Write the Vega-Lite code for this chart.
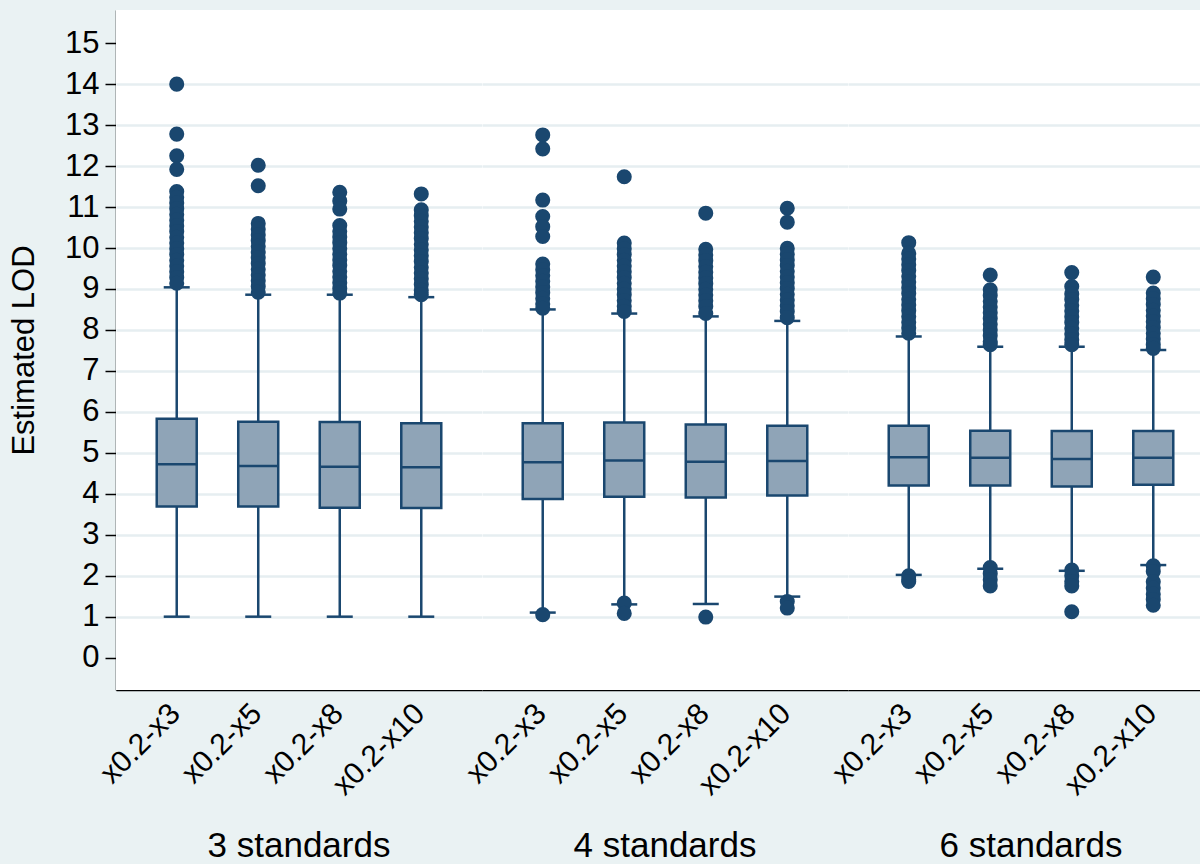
{
  "$schema": "https://vega.github.io/schema/vega-lite/v6.json",
  "background": "#EAF2F3",
  "padding": {"left": 8, "top": 10, "right": -12, "bottom": 0},
  "data": {"values": [
    {"group": "3 standards", "label": "x0.2-x3", "lo": 1.0, "q1": 3.69, "med": 4.72, "q3": 5.83, "hi": 9.04},
    {"group": "3 standards", "label": "x0.2-x5", "lo": 1.0, "q1": 3.69, "med": 4.68, "q3": 5.76, "hi": 8.86},
    {"group": "3 standards", "label": "x0.2-x8", "lo": 1.0, "q1": 3.66, "med": 4.66, "q3": 5.75, "hi": 8.86},
    {"group": "3 standards", "label": "x0.2-x10", "lo": 1.0, "q1": 3.65, "med": 4.65, "q3": 5.72, "hi": 8.8},
    {"group": "4 standards", "label": "x0.2-x3", "lo": 1.1, "q1": 3.87, "med": 4.77, "q3": 5.72, "hi": 8.5},
    {"group": "4 standards", "label": "x0.2-x5", "lo": 1.3, "q1": 3.93, "med": 4.81, "q3": 5.74, "hi": 8.4},
    {"group": "4 standards", "label": "x0.2-x8", "lo": 1.31, "q1": 3.91, "med": 4.78, "q3": 5.69, "hi": 8.33},
    {"group": "4 standards", "label": "x0.2-x10", "lo": 1.49, "q1": 3.96, "med": 4.8, "q3": 5.66, "hi": 8.22},
    {"group": "6 standards", "label": "x0.2-x3", "lo": 2.02, "q1": 4.2, "med": 4.89, "q3": 5.66, "hi": 7.84},
    {"group": "6 standards", "label": "x0.2-x5", "lo": 2.17, "q1": 4.2, "med": 4.88, "q3": 5.54, "hi": 7.59},
    {"group": "6 standards", "label": "x0.2-x8", "lo": 2.12, "q1": 4.18, "med": 4.85, "q3": 5.53, "hi": 7.59},
    {"group": "6 standards", "label": "x0.2-x10", "lo": 2.26, "q1": 4.22, "med": 4.88, "q3": 5.53, "hi": 7.51},

    {"group": "3 standards", "label": "x0.2-x3", "out": 14.0},
    {"group": "3 standards", "label": "x0.2-x3", "out": 12.78},
    {"group": "3 standards", "label": "x0.2-x3", "out": 12.25},
    {"group": "3 standards", "label": "x0.2-x3", "out": 11.92},
    {"group": "3 standards", "label": "x0.2-x3", "out": 11.38},
    {"group": "3 standards", "label": "x0.2-x3", "out": 11.24},
    {"group": "3 standards", "label": "x0.2-x3", "out": 11.1},
    {"group": "3 standards", "label": "x0.2-x3", "out": 10.96},
    {"group": "3 standards", "label": "x0.2-x3", "out": 10.82},
    {"group": "3 standards", "label": "x0.2-x3", "out": 10.68},
    {"group": "3 standards", "label": "x0.2-x3", "out": 10.54},
    {"group": "3 standards", "label": "x0.2-x3", "out": 10.4},
    {"group": "3 standards", "label": "x0.2-x3", "out": 10.26},
    {"group": "3 standards", "label": "x0.2-x3", "out": 10.12},
    {"group": "3 standards", "label": "x0.2-x3", "out": 9.98},
    {"group": "3 standards", "label": "x0.2-x3", "out": 9.84},
    {"group": "3 standards", "label": "x0.2-x3", "out": 9.7},
    {"group": "3 standards", "label": "x0.2-x3", "out": 9.56},
    {"group": "3 standards", "label": "x0.2-x3", "out": 9.42},
    {"group": "3 standards", "label": "x0.2-x3", "out": 9.28},
    {"group": "3 standards", "label": "x0.2-x3", "out": 9.14},

    {"group": "3 standards", "label": "x0.2-x5", "out": 12.02},
    {"group": "3 standards", "label": "x0.2-x5", "out": 11.52},
    {"group": "3 standards", "label": "x0.2-x5", "out": 10.6},
    {"group": "3 standards", "label": "x0.2-x5", "out": 10.46},
    {"group": "3 standards", "label": "x0.2-x5", "out": 10.32},
    {"group": "3 standards", "label": "x0.2-x5", "out": 10.18},
    {"group": "3 standards", "label": "x0.2-x5", "out": 10.04},
    {"group": "3 standards", "label": "x0.2-x5", "out": 9.9},
    {"group": "3 standards", "label": "x0.2-x5", "out": 9.76},
    {"group": "3 standards", "label": "x0.2-x5", "out": 9.62},
    {"group": "3 standards", "label": "x0.2-x5", "out": 9.48},
    {"group": "3 standards", "label": "x0.2-x5", "out": 9.34},
    {"group": "3 standards", "label": "x0.2-x5", "out": 9.2},
    {"group": "3 standards", "label": "x0.2-x5", "out": 9.06},
    {"group": "3 standards", "label": "x0.2-x5", "out": 8.92},

    {"group": "3 standards", "label": "x0.2-x8", "out": 11.36},
    {"group": "3 standards", "label": "x0.2-x8", "out": 11.15},
    {"group": "3 standards", "label": "x0.2-x8", "out": 10.95},
    {"group": "3 standards", "label": "x0.2-x8", "out": 10.55},
    {"group": "3 standards", "label": "x0.2-x8", "out": 10.41},
    {"group": "3 standards", "label": "x0.2-x8", "out": 10.27},
    {"group": "3 standards", "label": "x0.2-x8", "out": 10.13},
    {"group": "3 standards", "label": "x0.2-x8", "out": 9.99},
    {"group": "3 standards", "label": "x0.2-x8", "out": 9.85},
    {"group": "3 standards", "label": "x0.2-x8", "out": 9.71},
    {"group": "3 standards", "label": "x0.2-x8", "out": 9.57},
    {"group": "3 standards", "label": "x0.2-x8", "out": 9.43},
    {"group": "3 standards", "label": "x0.2-x8", "out": 9.29},
    {"group": "3 standards", "label": "x0.2-x8", "out": 9.15},
    {"group": "3 standards", "label": "x0.2-x8", "out": 9.01},
    {"group": "3 standards", "label": "x0.2-x8", "out": 8.9},

    {"group": "3 standards", "label": "x0.2-x10", "out": 11.32},
    {"group": "3 standards", "label": "x0.2-x10", "out": 10.93},
    {"group": "3 standards", "label": "x0.2-x10", "out": 10.79},
    {"group": "3 standards", "label": "x0.2-x10", "out": 10.65},
    {"group": "3 standards", "label": "x0.2-x10", "out": 10.51},
    {"group": "3 standards", "label": "x0.2-x10", "out": 10.37},
    {"group": "3 standards", "label": "x0.2-x10", "out": 10.23},
    {"group": "3 standards", "label": "x0.2-x10", "out": 10.09},
    {"group": "3 standards", "label": "x0.2-x10", "out": 9.95},
    {"group": "3 standards", "label": "x0.2-x10", "out": 9.81},
    {"group": "3 standards", "label": "x0.2-x10", "out": 9.67},
    {"group": "3 standards", "label": "x0.2-x10", "out": 9.53},
    {"group": "3 standards", "label": "x0.2-x10", "out": 9.39},
    {"group": "3 standards", "label": "x0.2-x10", "out": 9.25},
    {"group": "3 standards", "label": "x0.2-x10", "out": 9.11},
    {"group": "3 standards", "label": "x0.2-x10", "out": 8.97},
    {"group": "3 standards", "label": "x0.2-x10", "out": 8.86},

    {"group": "4 standards", "label": "x0.2-x3", "out": 12.76},
    {"group": "4 standards", "label": "x0.2-x3", "out": 12.42},
    {"group": "4 standards", "label": "x0.2-x3", "out": 11.17},
    {"group": "4 standards", "label": "x0.2-x3", "out": 10.77},
    {"group": "4 standards", "label": "x0.2-x3", "out": 10.52},
    {"group": "4 standards", "label": "x0.2-x3", "out": 10.28},
    {"group": "4 standards", "label": "x0.2-x3", "out": 9.61},
    {"group": "4 standards", "label": "x0.2-x3", "out": 9.47},
    {"group": "4 standards", "label": "x0.2-x3", "out": 9.33},
    {"group": "4 standards", "label": "x0.2-x3", "out": 9.19},
    {"group": "4 standards", "label": "x0.2-x3", "out": 9.05},
    {"group": "4 standards", "label": "x0.2-x3", "out": 8.91},
    {"group": "4 standards", "label": "x0.2-x3", "out": 8.77},
    {"group": "4 standards", "label": "x0.2-x3", "out": 8.63},
    {"group": "4 standards", "label": "x0.2-x3", "out": 8.53},
    {"group": "4 standards", "label": "x0.2-x3", "out": 1.05},

    {"group": "4 standards", "label": "x0.2-x5", "out": 11.74},
    {"group": "4 standards", "label": "x0.2-x5", "out": 10.12},
    {"group": "4 standards", "label": "x0.2-x5", "out": 9.98},
    {"group": "4 standards", "label": "x0.2-x5", "out": 9.84},
    {"group": "4 standards", "label": "x0.2-x5", "out": 9.7},
    {"group": "4 standards", "label": "x0.2-x5", "out": 9.56},
    {"group": "4 standards", "label": "x0.2-x5", "out": 9.42},
    {"group": "4 standards", "label": "x0.2-x5", "out": 9.28},
    {"group": "4 standards", "label": "x0.2-x5", "out": 9.14},
    {"group": "4 standards", "label": "x0.2-x5", "out": 9.0},
    {"group": "4 standards", "label": "x0.2-x5", "out": 8.86},
    {"group": "4 standards", "label": "x0.2-x5", "out": 8.72},
    {"group": "4 standards", "label": "x0.2-x5", "out": 8.58},
    {"group": "4 standards", "label": "x0.2-x5", "out": 8.45},
    {"group": "4 standards", "label": "x0.2-x5", "out": 1.33},
    {"group": "4 standards", "label": "x0.2-x5", "out": 1.08},

    {"group": "4 standards", "label": "x0.2-x8", "out": 10.85},
    {"group": "4 standards", "label": "x0.2-x8", "out": 9.97},
    {"group": "4 standards", "label": "x0.2-x8", "out": 9.83},
    {"group": "4 standards", "label": "x0.2-x8", "out": 9.69},
    {"group": "4 standards", "label": "x0.2-x8", "out": 9.55},
    {"group": "4 standards", "label": "x0.2-x8", "out": 9.41},
    {"group": "4 standards", "label": "x0.2-x8", "out": 9.27},
    {"group": "4 standards", "label": "x0.2-x8", "out": 9.13},
    {"group": "4 standards", "label": "x0.2-x8", "out": 8.99},
    {"group": "4 standards", "label": "x0.2-x8", "out": 8.85},
    {"group": "4 standards", "label": "x0.2-x8", "out": 8.71},
    {"group": "4 standards", "label": "x0.2-x8", "out": 8.57},
    {"group": "4 standards", "label": "x0.2-x8", "out": 8.4},
    {"group": "4 standards", "label": "x0.2-x8", "out": 0.99},

    {"group": "4 standards", "label": "x0.2-x10", "out": 10.97},
    {"group": "4 standards", "label": "x0.2-x10", "out": 10.63},
    {"group": "4 standards", "label": "x0.2-x10", "out": 9.99},
    {"group": "4 standards", "label": "x0.2-x10", "out": 9.85},
    {"group": "4 standards", "label": "x0.2-x10", "out": 9.71},
    {"group": "4 standards", "label": "x0.2-x10", "out": 9.57},
    {"group": "4 standards", "label": "x0.2-x10", "out": 9.43},
    {"group": "4 standards", "label": "x0.2-x10", "out": 9.29},
    {"group": "4 standards", "label": "x0.2-x10", "out": 9.15},
    {"group": "4 standards", "label": "x0.2-x10", "out": 9.01},
    {"group": "4 standards", "label": "x0.2-x10", "out": 8.87},
    {"group": "4 standards", "label": "x0.2-x10", "out": 8.73},
    {"group": "4 standards", "label": "x0.2-x10", "out": 8.59},
    {"group": "4 standards", "label": "x0.2-x10", "out": 8.45},
    {"group": "4 standards", "label": "x0.2-x10", "out": 8.3},
    {"group": "4 standards", "label": "x0.2-x10", "out": 1.37},
    {"group": "4 standards", "label": "x0.2-x10", "out": 1.21},

    {"group": "6 standards", "label": "x0.2-x3", "out": 10.13},
    {"group": "6 standards", "label": "x0.2-x3", "out": 9.87},
    {"group": "6 standards", "label": "x0.2-x3", "out": 9.73},
    {"group": "6 standards", "label": "x0.2-x3", "out": 9.59},
    {"group": "6 standards", "label": "x0.2-x3", "out": 9.45},
    {"group": "6 standards", "label": "x0.2-x3", "out": 9.31},
    {"group": "6 standards", "label": "x0.2-x3", "out": 9.17},
    {"group": "6 standards", "label": "x0.2-x3", "out": 9.03},
    {"group": "6 standards", "label": "x0.2-x3", "out": 8.89},
    {"group": "6 standards", "label": "x0.2-x3", "out": 8.75},
    {"group": "6 standards", "label": "x0.2-x3", "out": 8.61},
    {"group": "6 standards", "label": "x0.2-x3", "out": 8.47},
    {"group": "6 standards", "label": "x0.2-x3", "out": 8.33},
    {"group": "6 standards", "label": "x0.2-x3", "out": 8.19},
    {"group": "6 standards", "label": "x0.2-x3", "out": 8.05},
    {"group": "6 standards", "label": "x0.2-x3", "out": 7.92},
    {"group": "6 standards", "label": "x0.2-x3", "out": 2.0},
    {"group": "6 standards", "label": "x0.2-x3", "out": 1.9},
    {"group": "6 standards", "label": "x0.2-x3", "out": 1.86},

    {"group": "6 standards", "label": "x0.2-x5", "out": 9.34},
    {"group": "6 standards", "label": "x0.2-x5", "out": 8.98},
    {"group": "6 standards", "label": "x0.2-x5", "out": 8.84},
    {"group": "6 standards", "label": "x0.2-x5", "out": 8.7},
    {"group": "6 standards", "label": "x0.2-x5", "out": 8.56},
    {"group": "6 standards", "label": "x0.2-x5", "out": 8.42},
    {"group": "6 standards", "label": "x0.2-x5", "out": 8.28},
    {"group": "6 standards", "label": "x0.2-x5", "out": 8.14},
    {"group": "6 standards", "label": "x0.2-x5", "out": 8.0},
    {"group": "6 standards", "label": "x0.2-x5", "out": 7.86},
    {"group": "6 standards", "label": "x0.2-x5", "out": 7.72},
    {"group": "6 standards", "label": "x0.2-x5", "out": 7.64},
    {"group": "6 standards", "label": "x0.2-x5", "out": 2.2},
    {"group": "6 standards", "label": "x0.2-x5", "out": 2.05},
    {"group": "6 standards", "label": "x0.2-x5", "out": 1.9},
    {"group": "6 standards", "label": "x0.2-x5", "out": 1.75},

    {"group": "6 standards", "label": "x0.2-x8", "out": 9.4},
    {"group": "6 standards", "label": "x0.2-x8", "out": 9.06},
    {"group": "6 standards", "label": "x0.2-x8", "out": 8.88},
    {"group": "6 standards", "label": "x0.2-x8", "out": 8.74},
    {"group": "6 standards", "label": "x0.2-x8", "out": 8.6},
    {"group": "6 standards", "label": "x0.2-x8", "out": 8.46},
    {"group": "6 standards", "label": "x0.2-x8", "out": 8.32},
    {"group": "6 standards", "label": "x0.2-x8", "out": 8.18},
    {"group": "6 standards", "label": "x0.2-x8", "out": 8.04},
    {"group": "6 standards", "label": "x0.2-x8", "out": 7.9},
    {"group": "6 standards", "label": "x0.2-x8", "out": 7.76},
    {"group": "6 standards", "label": "x0.2-x8", "out": 7.64},
    {"group": "6 standards", "label": "x0.2-x8", "out": 2.14},
    {"group": "6 standards", "label": "x0.2-x8", "out": 2.0},
    {"group": "6 standards", "label": "x0.2-x8", "out": 1.86},
    {"group": "6 standards", "label": "x0.2-x8", "out": 1.75},
    {"group": "6 standards", "label": "x0.2-x8", "out": 1.12},

    {"group": "6 standards", "label": "x0.2-x10", "out": 9.29},
    {"group": "6 standards", "label": "x0.2-x10", "out": 8.9},
    {"group": "6 standards", "label": "x0.2-x10", "out": 8.76},
    {"group": "6 standards", "label": "x0.2-x10", "out": 8.62},
    {"group": "6 standards", "label": "x0.2-x10", "out": 8.48},
    {"group": "6 standards", "label": "x0.2-x10", "out": 8.34},
    {"group": "6 standards", "label": "x0.2-x10", "out": 8.2},
    {"group": "6 standards", "label": "x0.2-x10", "out": 8.06},
    {"group": "6 standards", "label": "x0.2-x10", "out": 7.92},
    {"group": "6 standards", "label": "x0.2-x10", "out": 7.78},
    {"group": "6 standards", "label": "x0.2-x10", "out": 7.64},
    {"group": "6 standards", "label": "x0.2-x10", "out": 7.55},
    {"group": "6 standards", "label": "x0.2-x10", "out": 2.24},
    {"group": "6 standards", "label": "x0.2-x10", "out": 2.1},
    {"group": "6 standards", "label": "x0.2-x10", "out": 1.85},
    {"group": "6 standards", "label": "x0.2-x10", "out": 1.7},
    {"group": "6 standards", "label": "x0.2-x10", "out": 1.55},
    {"group": "6 standards", "label": "x0.2-x10", "out": 1.42},
    {"group": "6 standards", "label": "x0.2-x10", "out": 1.28}
  ]},
  "facet": {
    "column": {
      "field": "group",
      "type": "nominal",
      "title": null,
      "sort": ["3 standards", "4 standards", "6 standards"],
      "header": {
        "labelOrient": "bottom",
        "labelFontSize": 35,
        "labelColor": "black",
        "labelFont": "Liberation Sans",
        "labelPadding": 28
      }
    }
  },
  "spacing": 0,
  "spec": {
    "width": 366,
    "height": 680,
    "encoding": {
      "x": {
        "field": "label",
        "type": "nominal",
        "sort": ["x0.2-x3", "x0.2-x5", "x0.2-x8", "x0.2-x10"],
        "scale": {"paddingInner": 0, "paddingOuter": 0.245},
        "axis": {
          "title": null,
          "labelAngle": -45,
          "labelAlign": "right",
          "labelBaseline": "top",
          "labelFontSize": 30,
          "labelColor": "black",
          "labelPadding": 8,
          "labelOffset": -12,
          "ticks": false,
          "domainColor": "black",
          "domainWidth": 1.5,
          "grid": false
        }
      }
    },
    "layer": [
      {
        "transform": [{"filter": {"field": "med", "valid": true}}],
        "mark": {"type": "rule", "color": "#1A476F", "strokeWidth": 2.5},
        "encoding": {
          "y": {
            "field": "lo",
            "type": "quantitative",
            "title": "Estimated LOD",
            "scale": {"domain": [-0.79, 15.81], "nice": false, "zero": false},
            "axis": {
              "values": [0, 1, 2, 3, 4, 5, 6, 7, 8, 9, 10, 11, 12, 13, 14, 15],
              "labelFontSize": 31,
              "labelColor": "black",
              "labelPadding": 6,
              "tickSize": 11,
              "tickColor": "black",
              "tickWidth": 1.5,
              "domainColor": "black",
              "domainWidth": 1.5,
              "titleFontSize": 31,
              "titleFontWeight": "normal",
              "titleColor": "black",
              "titlePadding": 24,
              "grid": true,
              "gridColor": "#E6EEF1",
              "gridWidth": 2.5,
              "gridOpacity": {"condition": {"test": "datum.value === 0 || datum.value === 15", "value": 0}, "value": 1}
            }
          },
          "y2": {"field": "hi"}
        }
      },
      {
        "transform": [{"filter": {"field": "med", "valid": true}}],
        "mark": {"type": "bar", "width": 40, "fill": "#8FA4B7", "stroke": "#1A476F", "strokeWidth": 2.5},
        "encoding": {
          "y": {"field": "q1", "type": "quantitative", "title": "Estimated LOD"},
          "y2": {"field": "q3"}
        }
      },
      {
        "transform": [{"filter": {"field": "med", "valid": true}}],
        "mark": {"type": "tick", "size": 40, "thickness": 2.5, "color": "#1A476F", "opacity": 1},
        "encoding": {
          "y": {"field": "med", "type": "quantitative", "title": "Estimated LOD"}
        }
      },
      {
        "transform": [{"filter": {"field": "med", "valid": true}}],
        "mark": {"type": "tick", "size": 26, "thickness": 2.5, "color": "#1A476F", "opacity": 1},
        "encoding": {
          "y": {"field": "lo", "type": "quantitative", "title": "Estimated LOD"}
        }
      },
      {
        "transform": [{"filter": {"field": "med", "valid": true}}],
        "mark": {"type": "tick", "size": 26, "thickness": 2.5, "color": "#1A476F", "opacity": 1},
        "encoding": {
          "y": {"field": "hi", "type": "quantitative", "title": "Estimated LOD"}
        }
      },
      {
        "transform": [{"filter": {"field": "out", "valid": true}}],
        "mark": {"type": "point", "filled": true, "size": 227, "color": "#1A476F", "opacity": 1, "strokeWidth": 0},
        "encoding": {
          "y": {"field": "out", "type": "quantitative", "title": "Estimated LOD"}
        }
      }
    ]
  },
  "config": {
    "font": "Liberation Sans",
    "view": {"stroke": null, "fill": "white"},
    "axis": {"labelFont": "Liberation Sans", "titleFont": "Liberation Sans"}
  }
}
